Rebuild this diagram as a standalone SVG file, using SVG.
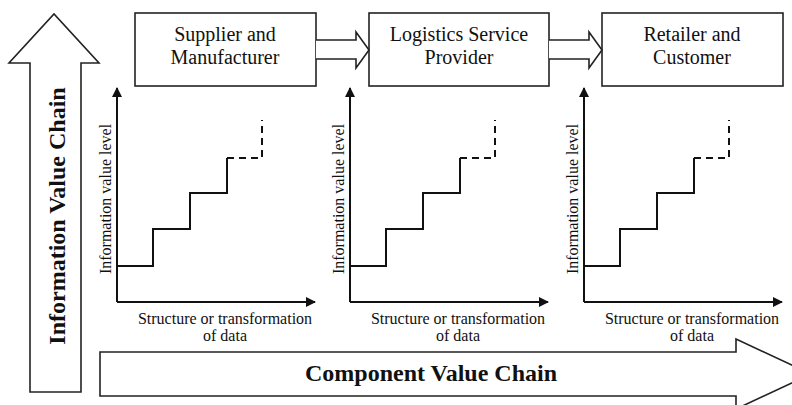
<svg xmlns="http://www.w3.org/2000/svg" width="792" height="405" viewBox="0 0 792 405">
<style>
.bg{fill:#fff}
.shape{fill:#fff;stroke:#222;stroke-width:1.6}
.ln{fill:none;stroke:#111;stroke-width:2}
.dash{fill:none;stroke:#111;stroke-width:2;stroke-dasharray:7,5}
.t{font-family:"Liberation Serif","Times New Roman",serif;fill:#111}
.box{font-size:20px;text-anchor:middle}
.ax{font-size:16px;text-anchor:middle}
.big{font-size:24px;font-weight:bold;text-anchor:middle}
</style>
<defs>
<marker id="ah" markerWidth="10" markerHeight="10" refX="9" refY="5" orient="auto" markerUnits="userSpaceOnUse">
<path d="M0,0 L10,5 L0,10 Z" fill="#111"/>
</marker>
</defs>
<rect class="bg" width="792" height="405"/>

<g id="info-value-chain">
<path class="shape" d="M30,392 L30,63 L9,63 L54,14 L99,63 L81,63 L81,392 Z"/>
<text class="t big" transform="translate(65,216) rotate(-90)">Information Value Chain</text>
</g>

<g id="component-value-chain">
<path class="shape" d="M100,352 L736,352 L736,339 L811,374 L736,409 L736,396 L100,396 Z"/>
<text class="t big" x="431" y="381">Component Value Chain</text>
</g>

<g id="supplier">
<rect class="shape" x="135" y="13" width="181" height="73"/>
<text class="t box" x="225" y="41">Supplier and</text>
<text class="t box" x="225" y="64">Manufacturer</text>
</g>
<g id="logistics">
<rect class="shape" x="369" y="13" width="180" height="73"/>
<text class="t box" x="459" y="41">Logistics Service</text>
<text class="t box" x="459" y="64">Provider</text>
</g>
<g id="retailer">
<rect class="shape" x="602" y="13" width="181" height="73"/>
<text class="t box" x="692" y="41">Retailer and</text>
<text class="t box" x="692" y="64">Customer</text>
</g>

<g id="connectors">
<path class="shape" d="M316,40 L356,40 L356,32 L369,50 L356,68 L356,59 L316,59"/>
<path class="shape" d="M549,40 L589,40 L589,32 L602,50 L589,68 L589,59 L549,59"/>
</g>

<g id="chart1">
<path class="ln" d="M117,302 L117,88" marker-end="url(#ah)"/>
<path class="ln" d="M117,302 L315,302" marker-end="url(#ah)"/>
<path class="ln" d="M117,266 L153,266 L153,229 L190,229 L190,193 L227,193 L227,158"/>
<path class="dash" d="M227,158 L262,158 L262,120"/>
<text class="t ax" transform="translate(111,199) rotate(-90)">Information value level</text>
<text class="t ax" x="225" y="324">Structure or transformation</text>
<text class="t ax" x="225" y="341">of data</text>
</g>

<g id="chart2">
<path class="ln" d="M350,302 L350,88" marker-end="url(#ah)"/>
<path class="ln" d="M350,302 L548,302" marker-end="url(#ah)"/>
<path class="ln" d="M350,266 L386,266 L386,229 L423,229 L423,193 L460,193 L460,158"/>
<path class="dash" d="M460,158 L495,158 L495,120"/>
<text class="t ax" transform="translate(344,199) rotate(-90)">Information value level</text>
<text class="t ax" x="458" y="324">Structure or transformation</text>
<text class="t ax" x="458" y="341">of data</text>
</g>

<g id="chart3">
<path class="ln" d="M584,302 L584,88" marker-end="url(#ah)"/>
<path class="ln" d="M584,302 L782,302" marker-end="url(#ah)"/>
<path class="ln" d="M584,266 L620,266 L620,229 L657,229 L657,193 L694,193 L694,158"/>
<path class="dash" d="M694,158 L729,158 L729,120"/>
<text class="t ax" transform="translate(578,199) rotate(-90)">Information value level</text>
<text class="t ax" x="692" y="324">Structure or transformation</text>
<text class="t ax" x="692" y="341">of data</text>
</g>
</svg>
